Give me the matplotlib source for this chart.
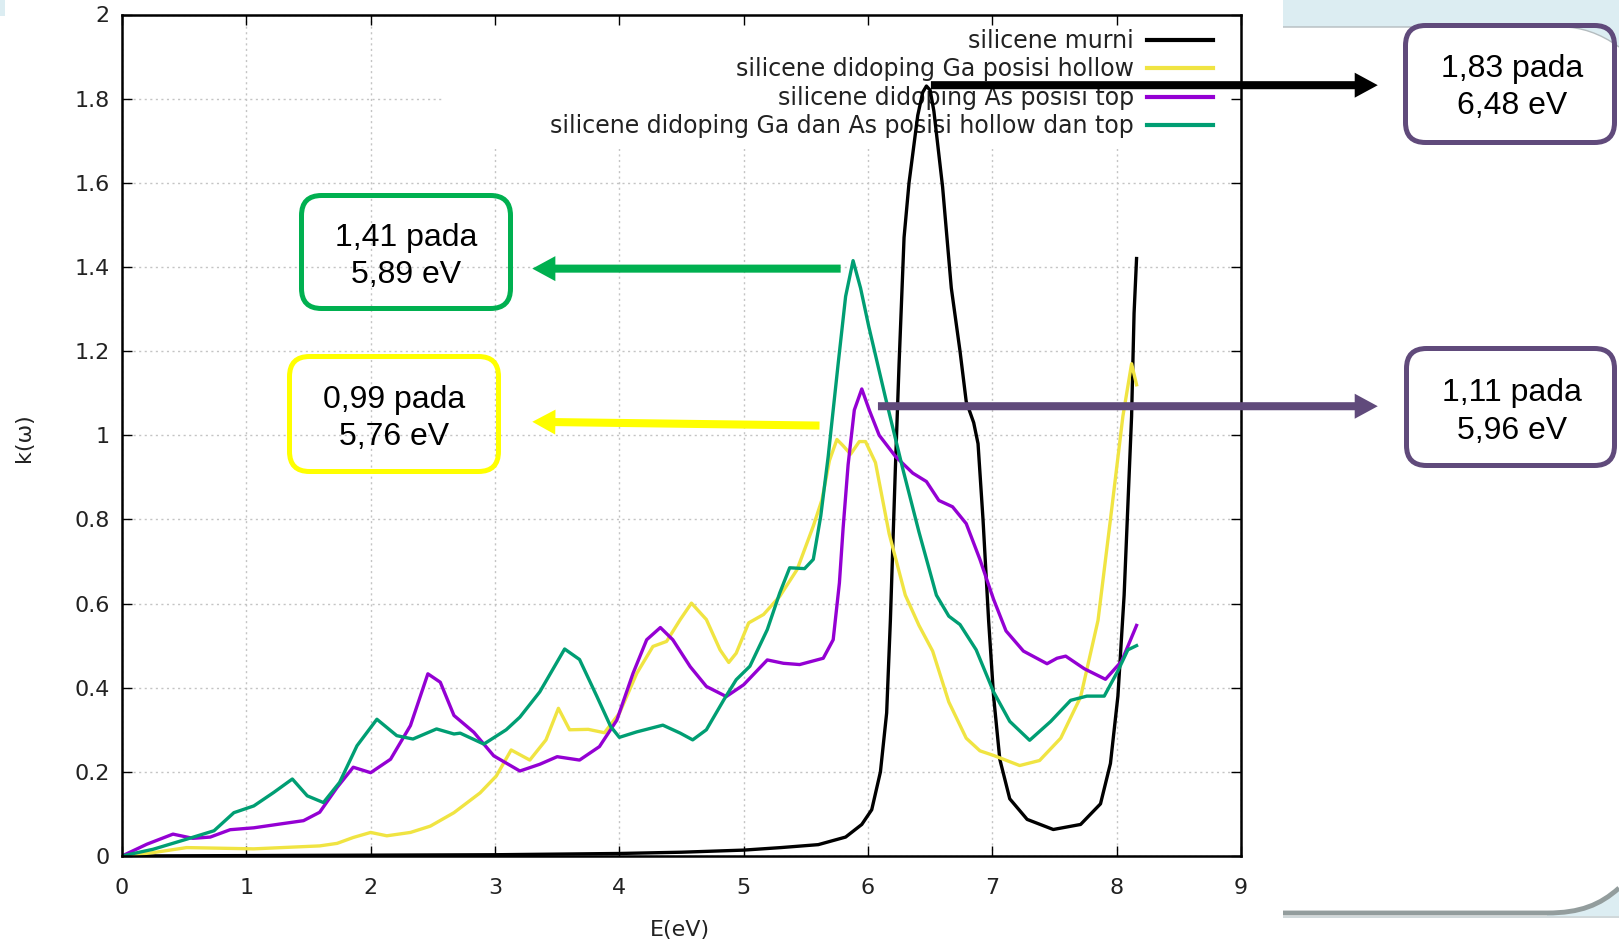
import matplotlib.pyplot as plt
from matplotlib.patches import FancyBboxPatch, PathPatch, Rectangle
from matplotlib.path import Path
from matplotlib.transforms import Affine2D

W, H = 1619, 941

# k(omega) curves
e_murni = [0, 1.0, 2.0, 3.0, 4.0, 4.5, 5.0, 5.3, 5.6, 5.82, 5.95, 6.03, 6.10, 6.15,
           6.18, 6.22, 6.25, 6.29, 6.33, 6.40, 6.44, 6.47, 6.50, 6.53, 6.60, 6.67,
           6.74, 6.79, 6.85, 6.885, 6.925, 6.97, 7.01, 7.06, 7.14, 7.28, 7.49, 7.71,
           7.87, 7.95, 8.01, 8.06, 8.12, 8.14, 8.16]
k_murni = [0, 0.001, 0.002, 0.003, 0.006, 0.009, 0.014, 0.02, 0.027, 0.045, 0.075, 0.11,
           0.2, 0.34, 0.56, 0.92, 1.17, 1.47, 1.60, 1.76, 1.815, 1.83, 1.82, 1.77, 1.59,
           1.35, 1.2, 1.08, 1.03, 0.98, 0.80, 0.56, 0.38, 0.23, 0.136, 0.087, 0.063,
           0.075, 0.124, 0.22, 0.38, 0.62, 1.045, 1.29, 1.42]

e_ga = [0, 0.25, 0.52, 1.06, 1.59, 1.73, 1.86, 2.0, 2.13, 2.32, 2.48, 2.67, 2.88, 3.01,
        3.13, 3.28, 3.41, 3.51, 3.60, 3.75, 3.88, 4.0, 4.14, 4.27, 4.38, 4.49, 4.58,
        4.70, 4.81, 4.88, 4.94, 5.04, 5.16, 5.29, 5.43, 5.56, 5.63, 5.69, 5.75, 5.80,
        5.86, 5.93, 5.98, 6.06, 6.17, 6.30, 6.41, 6.52, 6.65, 6.79, 6.90, 7.01, 7.22,
        7.38, 7.55, 7.71, 7.85, 7.95, 8.05, 8.12, 8.16]
k_ga = [0, 0.008, 0.02, 0.017, 0.024, 0.03, 0.044, 0.056, 0.048, 0.056, 0.071, 0.103,
        0.15, 0.19, 0.252, 0.228, 0.276, 0.351, 0.30, 0.301, 0.293, 0.339, 0.434, 0.498,
        0.51, 0.562, 0.601, 0.562, 0.49, 0.46, 0.482, 0.554, 0.574, 0.617, 0.681, 0.784,
        0.847, 0.94, 0.99, 0.975, 0.955, 0.985, 0.985, 0.935, 0.766, 0.62, 0.548, 0.487,
        0.366, 0.28, 0.25, 0.239, 0.215, 0.227, 0.28, 0.378, 0.56, 0.80, 1.045, 1.17, 1.12]

e_as = [0, 0.2, 0.41, 0.57, 0.71, 0.87, 1.06, 1.27, 1.46, 1.59, 1.73, 1.86, 2.0, 2.16,
        2.32, 2.46, 2.56, 2.67, 2.83, 2.99, 3.2, 3.36, 3.5, 3.68, 3.84, 3.98, 4.11, 4.22,
        4.33, 4.43, 4.57, 4.70, 4.86, 5.0, 5.19, 5.32, 5.45, 5.64, 5.72, 5.77, 5.80, 5.84,
        5.89, 5.95, 6.01, 6.09, 6.22, 6.36, 6.47, 6.57, 6.68, 6.79, 6.90, 7.01, 7.11,
        7.25, 7.44, 7.52, 7.59, 7.74, 7.91, 8.04, 8.16]
k_as = [0, 0.028, 0.052, 0.042, 0.045, 0.0625, 0.067, 0.076, 0.084, 0.104, 0.163, 0.211,
        0.198, 0.23, 0.31, 0.433, 0.413, 0.334, 0.294, 0.238, 0.202, 0.218, 0.236, 0.228,
        0.26, 0.323, 0.434, 0.514, 0.543, 0.514, 0.45, 0.403, 0.379, 0.407, 0.466, 0.458,
        0.455, 0.47, 0.514, 0.649, 0.78, 0.93, 1.06, 1.11, 1.06, 1.0, 0.95, 0.91, 0.89,
        0.845, 0.83, 0.79, 0.705, 0.61, 0.535, 0.487, 0.457, 0.47, 0.475, 0.445, 0.42,
        0.463, 0.548]

e_gaas = [0, 0.25, 0.52, 0.74, 0.9, 1.06, 1.22, 1.37, 1.49, 1.62, 1.75, 1.89, 2.05, 2.21,
          2.34, 2.53, 2.67, 2.72, 2.91, 3.09, 3.2, 3.36, 3.56, 3.68, 3.82, 3.93, 4.0,
          4.14, 4.35, 4.49, 4.59, 4.70, 4.84, 4.94, 5.05, 5.19, 5.29, 5.37, 5.49, 5.56,
          5.62, 5.68, 5.76, 5.82, 5.88, 5.94, 6.005, 6.14, 6.28, 6.41, 6.55, 6.65, 6.74,
          6.87, 7.01, 7.14, 7.30, 7.47, 7.63, 7.76, 7.90, 8.01, 8.09, 8.16]
k_gaas = [0, 0.016, 0.04, 0.06, 0.103, 0.119, 0.151, 0.183, 0.143, 0.127, 0.175, 0.262,
          0.325, 0.286, 0.278, 0.302, 0.29, 0.292, 0.266, 0.3, 0.33, 0.39, 0.492, 0.467,
          0.379, 0.308, 0.282, 0.295, 0.311, 0.292, 0.276, 0.3, 0.371, 0.419, 0.451,
          0.538, 0.625, 0.685, 0.683, 0.705, 0.808, 0.95, 1.17, 1.33, 1.415, 1.35, 1.26,
          1.09, 0.92, 0.77, 0.62, 0.57, 0.55, 0.49, 0.39, 0.32, 0.275, 0.32, 0.37, 0.38,
          0.38, 0.44, 0.49, 0.50]

labels = ['silicene murni', 'silicene didoping Ga posisi hollow',
          'silicene didoping As posisi top',
          'silicene didoping Ga dan As posisi hollow dan top']
colors = ['black', '#f0e442', '#9400d3', '#009e73']

x_ticks = [0, 1, 2, 3, 4, 5, 6, 7, 8, 9]
y_ticks = [0, 0.2, 0.4, 0.6, 0.8, 1.0, 1.2, 1.4, 1.6, 1.8, 2.0]
y_ticklabels = ['0', '0.2', '0.4', '0.6', '0.8', '1', '1.2', '1.4', '1.6', '1.8', '2']

fig = plt.figure(figsize=(W / 100, H / 100), dpi=100)
# pixel coordinates of the slide, origin top-left
px = Affine2D().scale(1 / W, -1 / H).translate(0, 1) + fig.transFigure

# slide decoration in the corners
blue = '#dcedf2'
top = Path([(1283, 0), (1619, 0), (1619, 47), (1600, 33), (1580, 27), (1563, 27),
            (1283, 27), (1283, 0)],
           [Path.MOVETO, Path.LINETO, Path.LINETO, Path.CURVE4, Path.CURVE4, Path.CURVE4,
            Path.LINETO, Path.CLOSEPOLY])
fig.patches.append(PathPatch(top, transform=px, fc=blue, ec='none', figure=fig))
edge = Path([(1283, 27), (1563, 27), (1580, 27), (1600, 33), (1619, 47)],
            [Path.MOVETO, Path.LINETO, Path.CURVE4, Path.CURVE4, Path.CURVE4])
fig.patches.append(PathPatch(edge, transform=px, fc='none', ec='#b4bcbf', lw=1, figure=fig))
fig.patches.append(Rectangle((0, 0), 5, 16, transform=px, fc=blue, ec='none', figure=fig))

bottom = Path([(1547, 913), (1580, 913), (1600, 905), (1619, 888), (1619, 917),
               (1547, 917), (1547, 913)],
              [Path.MOVETO, Path.CURVE4, Path.CURVE4, Path.CURVE4, Path.LINETO,
               Path.LINETO, Path.CLOSEPOLY])
fig.patches.append(PathPatch(bottom, transform=px, fc=blue, ec='none', figure=fig))
fig.patches.append(Rectangle((1283, 916), 336, 2, transform=px, fc='#d0d8da', ec='none',
                             figure=fig))
rim = Path([(1283, 913), (1547, 913), (1580, 913), (1600, 905), (1619, 888)],
           [Path.MOVETO, Path.LINETO, Path.CURVE4, Path.CURVE4, Path.CURVE4])
fig.patches.append(PathPatch(rim, transform=px, fc='none', ec='#939d9d', lw=3.5,
                             capstyle='butt', figure=fig))

ax = fig.add_axes([122 / W, 1 - 856 / H, 1119 / W, 841.5 / H])

for v in x_ticks:
    ax.axvline(v, color='#c4c4c4', lw=1, ls=(0, (1.5, 2.5)), zorder=0.5)
for v in y_ticks:
    ax.axhline(v, color='#c4c4c4', lw=1, ls=(0, (1.5, 2.5)), zorder=0.5)
# the key area hides the grid, as gnuplot does
ax.add_patch(Rectangle((0.288, 0.84), 0.712, 0.16, transform=ax.transAxes,
                       fc='white', ec='none', zorder=0.7))

series = [(e_murni, k_murni), (e_ga, k_ga), (e_as, k_as), (e_gaas, k_gaas)]
for (e, k), lab, col in zip(series, labels, colors):
    ax.plot(e, k, color=col, lw=2.4, label=lab, solid_joinstyle='round', zorder=2)

ax.set_xlim(0, 9)
ax.set_ylim(0, 2)
ax.set_xticks(x_ticks)
ax.set_yticks(y_ticks)
ax.set_yticklabels(y_ticklabels)
ax.tick_params(direction='in', length=7, width=1, top=True, right=True,
               labelsize=16, colors='black', labelcolor='#222222')
ax.tick_params(axis='x', pad=16)
ax.tick_params(axis='y', pad=9)
for s in ax.spines.values():
    s.set_linewidth(1.8)

ax.set_xlabel('E(eV)', fontsize=16, color='#222222')
ax.set_ylabel('k(ω)', fontsize=16, color='#222222')
ax.xaxis.set_label_coords(0.499, -0.0766)
ax.yaxis.set_label_coords(-0.079, 0.497)

leg = ax.legend(loc='upper right', bbox_to_anchor=(0.975, 0.983), frameon=False,
                markerfirst=False, fontsize=17, handlelength=2.8, handletextpad=0.55,
                labelspacing=0.19, borderaxespad=0, borderpad=0)
for t in leg.get_texts():
    t.set_color('#222222')
for h in leg.get_lines():
    h.set_linewidth(3)
leg.set_zorder(1)

# callout arrows, from the peaks to the boxes
purple = '#604a7b'
arrows = [((6.506, 1.832), (10.1, 1.832), 'black'),
          ((5.78, 1.396), (3.30, 1.396), '#00b050'),
          ((5.61, 1.023), (3.30, 1.032), '#ffff00'),
          ((6.08, 1.069), (10.1, 1.069), purple)]
for start, end, col in arrows:
    ax.annotate('', xy=end, xytext=start, xycoords='data', annotation_clip=False,
                arrowprops=dict(arrowstyle='simple,head_length=0.83,head_width=0.9,tail_width=0.29',
                                mutation_scale=20, fc=col, ec='none', lw=0,
                                shrinkA=0, shrinkB=0),
                zorder=6)

# callout boxes: corners, colour, text lines, centre x, baselines
boxes = [((1405.5, 25.5, 1614.5, 142.5), purple, ['1,83 pada', '6,48 eV'], 1512, (77, 114)),
         ((301.5, 195.5, 510.5, 308.5), '#00b050', ['1,41 pada', '5,89 eV'], 406, (246, 283)),
         ((289.5, 356.5, 498.5, 471.5), '#ffff00', ['0,99 pada', '5,76 eV'], 394, (408, 445)),
         ((1406.5, 348.5, 1614.5, 465.5), purple, ['1,11 pada', '5,96 eV'], 1512, (401, 439))]
for (x0, y0, x1, y1), col, lines, cx, bases in boxes:
    fig.patches.append(FancyBboxPatch((x0, y0), x1 - x0, y1 - y0,
                                      boxstyle='round,pad=0,rounding_size=20',
                                      transform=px, fc='none', ec=col, lw=3.6, figure=fig))
    for line, yb in zip(lines, bases):
        fig.text(cx, yb, line, transform=px, ha='center', va='baseline',
                 fontsize=23, family='Liberation Sans', color='black')

fig.savefig('out.png', dpi=100)
